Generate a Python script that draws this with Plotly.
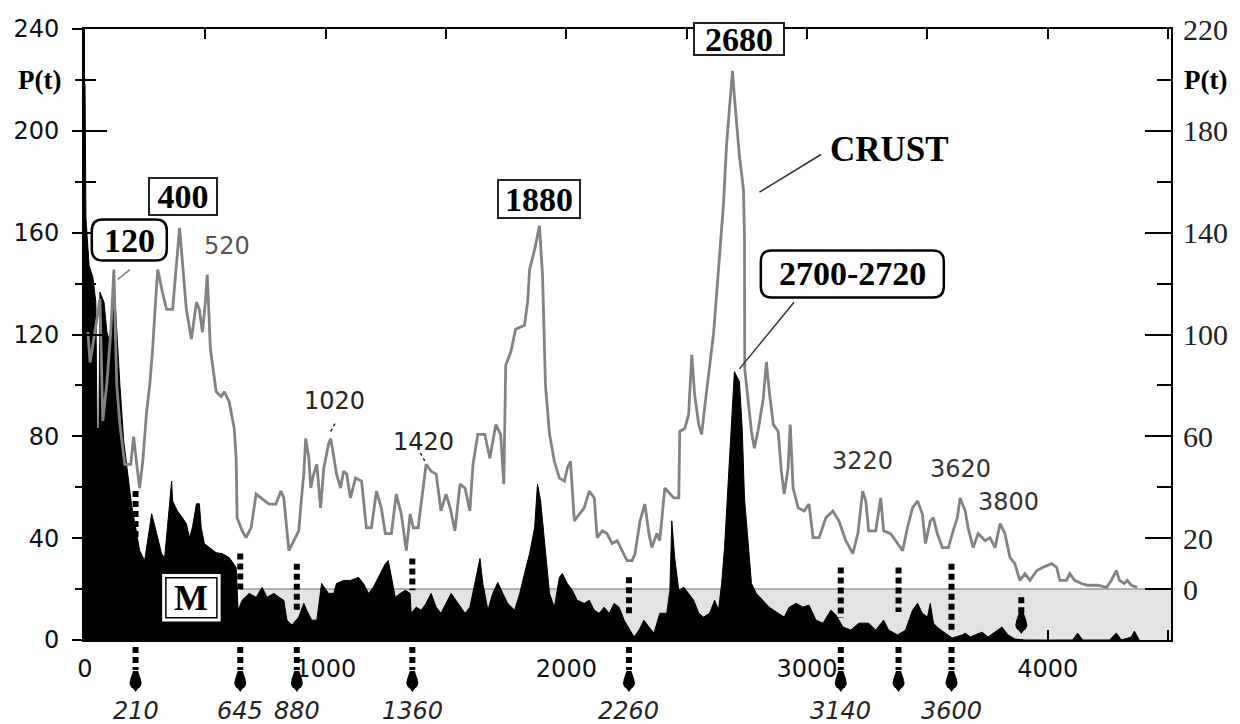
import plotly.graph_objects as go

# ---------------------------------------------------------------- data
# Crust age spectrum P(t), right-hand axis (Ma vs. probability)
crust_t = [12, 21, 41, 62, 74, 91, 107, 120, 132, 145, 157, 165, 190, 202, 215, 227, 240, 256, 269, 281,
           293, 302, 322, 339, 364, 380, 393, 405, 421, 442, 463, 475, 488, 500, 508, 521, 533, 545, 566, 579,
           599, 620, 628, 632, 653, 669, 690, 711, 731, 764, 793, 814, 826, 839, 847, 868, 888, 901, 909, 917,
           930, 938, 950, 963, 979, 992, 1012, 1021, 1033, 1045, 1062, 1074, 1087, 1103, 1124, 1149, 1169, 1190,
           1211, 1231, 1248, 1273, 1293, 1314, 1335, 1351, 1364, 1384, 1405, 1417, 1438, 1459, 1479, 1500, 1517,
           1537, 1558, 1579, 1599, 1612, 1632, 1661, 1682, 1707, 1727, 1740, 1748, 1769, 1789, 1826, 1839, 1847,
           1868, 1888, 1901, 1913, 1930, 1950, 1971, 1992, 2004, 2017, 2033, 2054, 2074, 2095, 2116, 2128, 2149,
           2169, 2190, 2211, 2231, 2252, 2273, 2285, 2306, 2326, 2343, 2355, 2376, 2388, 2409, 2430, 2446, 2467,
           2471, 2492, 2508, 2521, 2533, 2550, 2562, 2574, 2591, 2603, 2612, 2632, 2653, 2665, 2678, 2690, 2698,
           2707, 2719, 2736, 2740, 2741, 2756, 2769, 2781, 2798, 2818, 2831, 2843, 2860, 2880, 2893, 2905, 2921,
           2930, 2942, 2963, 2988, 3008, 3025, 3050, 3078, 3107, 3132, 3161, 3190, 3211, 3231, 3244, 3256, 3285,
           3306, 3318, 3347, 3368, 3397, 3417, 3438, 3459, 3479, 3492, 3512, 3525, 3541, 3562, 3587, 3607, 3624,
           3636, 3657, 3669, 3690, 3711, 3740, 3760, 3781, 3802, 3822, 3843, 3863, 3884, 3905, 3926, 3955, 3979,
           4016, 4037, 4050, 4078, 4091, 4112, 4140, 4165, 4207, 4244, 4264, 4285, 4298, 4318, 4330, 4347, 4372]
crust_p = [101, 89, 101, 114, 66, 81, 101, 125.5, 80, 64.6, 55.3, 49, 49, 59.9, 49, 39.7, 50.2, 69.7, 80.2, 94.3,
           112.7, 125.5, 116.5, 109.9, 109.9, 128.2, 141.9, 128.2, 109.9, 98.2, 112.7, 109.9, 100.9, 112.7, 123.5, 94.3, 86.5, 77.5, 75.6, 77.5,
           73.6, 63.1, 51.4, 28, 22.9, 20.2, 24.1, 37.3, 35.8, 33.4, 33.4, 38.5, 35.8, 21.8, 15.1, 19, 22.9, 37.3, 45.2, 59.2,
           51.4, 39.7, 45.2, 49, 31.9, 47.5, 56.9, 59.2, 51.4, 45.2, 39.7, 46.3, 45.2, 35.8, 43.6, 42.4, 24.1, 24.1,
           38.5, 31.9, 21.8, 21.8, 37.3, 29.5, 15.1, 29.5, 24.1, 24.1, 39.7, 49, 46.3, 45.2, 30.7, 37.3, 31.9,
           22.9, 41.2, 39.7, 30.7, 49, 60.8, 60.8, 51.4, 64.6, 60.8, 41.2, 88, 93.1, 102.1, 103.6, 112.7, 125.5,
           133.3, 142.7, 123.2, 80.2, 60.8, 50.2, 43.6, 42.4, 47.5, 50.2, 26.8, 29.5, 31.9, 38.5, 35.8, 20.2, 22.9,
           21.8, 17.9, 19, 15.1, 11.2, 11.2, 13.9, 26.8, 33.4, 21.8, 16.3, 21.8, 19, 39.7, 37.3, 35.8, 35.8,
           61.9, 63.1, 68.6, 92, 76.3, 64.6, 60.8, 70.9, 84.2, 95.9, 100.9, 125.5, 151.6, 173.9, 189.5, 203.6, 193.4,
           182.9, 170, 156.8, 137.3, 86.5, 72.5, 61.9, 55.3, 63.1, 74.8, 89.2, 77.5, 64.6, 61.9, 46.3, 37.3, 47.5,
           64.6, 39.7, 31.9, 30.7, 33.4, 20.2, 20.2, 28, 30.7, 26.8, 19, 13.9, 21.8, 38.5, 34.6, 22.9, 22.9,
           35.8, 22.9, 21.8, 19, 15.1, 24.1, 31.9, 34.6, 29.5, 17.9, 26.8, 28, 21.8, 16.3, 16.3, 22.9, 28,
           35.8, 30.7, 24.1, 16.3, 21.8, 19, 20.2, 16.3, 25.7, 21.8, 12.4, 10, 3.4, 6.1, 3.4, 7.3, 8.5,
           10, 8.5, 3.4, 3.4, 6.1, 3.4, 2.2, 1.5, 1.5, 0.7, 3.4, 7.3, 3.4, 2.2, 3.4, 1.5, 0.7]

# Mantle (M) age spectrum P(t), left-hand axis
mantle_t = [0, 4, 17, 33, 45, 50, 58, 62, 79, 91, 103, 116, 124, 136, 145, 161, 178, 194, 215, 227,
            248, 269, 277, 298, 318, 331, 343, 360, 364, 384, 405, 421, 434, 446, 463, 475, 483, 496, 517, 545,
            570, 599, 628, 636, 653, 682, 711, 736, 756, 785, 806, 826, 839, 860, 888, 909, 921, 942, 963, 983,
            1012, 1033, 1045, 1074, 1103, 1136, 1157, 1178, 1198, 1219, 1248, 1260, 1273, 1289, 1310, 1331, 1351,
            1355, 1376, 1397, 1417, 1438, 1459, 1479, 1500, 1521, 1550, 1579, 1599, 1620, 1641, 1653, 1674, 1694,
            1715, 1736, 1756, 1785, 1806, 1826, 1847, 1868, 1880, 1893, 1909, 1930, 1950, 1971, 1983, 2004, 2025,
            2045, 2074, 2095, 2116, 2136, 2157, 2178, 2198, 2219, 2240, 2260, 2281, 2302, 2322, 2343, 2364, 2388,
            2417, 2430, 2438, 2450, 2467, 2488, 2508, 2529, 2550, 2570, 2595, 2616, 2632, 2645, 2657, 2674, 2686,
            2698, 2719, 2731, 2740, 2756, 2769, 2789, 2818, 2843, 2880, 2905, 2926, 2955, 2983, 3008, 3037, 3066,
            3099, 3120, 3149, 3182, 3215, 3256, 3285, 3318, 3339, 3376, 3409, 3438, 3459, 3479, 3500, 3512, 3525,
            3545, 3574, 3603, 3645, 3657, 3678, 3727, 3752, 3810, 3835, 3863, 3905, 4103, 4124, 4145, 4256, 4285,
            4306, 4347, 4360, 4380]
mantle_p = [218.5, 165.8, 147.1, 142.4, 132.7, 83.1, 83.1, 136.6, 132.7, 121, 117, 136.6, 134.6, 113.2, 100.3, 78, 65.2, 52.7, 41.8, 35.1,
            31.2, 44.1, 49.6, 41.8, 33.9, 32.4, 44.1, 62.4, 54.6, 50.7, 48, 45.7, 40.2, 44.1, 53.5, 53.5, 44.1, 37.8, 36.3, 34.3,
            33.9, 32.4, 28.5, 11.7, 15.6, 18.3, 16.8, 20.7, 16.8, 18.3, 16.8, 15.6, 7.8, 5.9, 9, 14.4, 11.7, 7.8, 7.8, 22.2,
            18.3, 18.3, 22.2, 23.4, 23.4, 24.6, 22.2, 18.3, 20.7, 24.6, 30, 31.2, 24.6, 16.8, 18.3, 19.5, 18.3,
            10.5, 12.9, 11.7, 14.4, 18.3, 12.9, 10.5, 14.4, 18.3, 14.4, 10.5, 12.9, 22.2, 32, 22.2, 11.7, 18.3,
            22.6, 18.3, 14.4, 11.7, 18.3, 26.1, 33.9, 44.1, 61.3, 54.6, 39, 18.3, 12.9, 24.6, 26.1, 22.2, 19.5,
            15.6, 14.4, 15.6, 11.7, 10.5, 12.9, 10.5, 14.4, 12.9, 7.8, 4.7, 1.2, 3.9, 7.8, 5.1, 2.7, 10.5,
            10.5, 19.5, 46.8, 32.4, 19.5, 20.7, 18.3, 15.6, 10.5, 9, 10.5, 15.6, 11.7, 22.2, 36.3, 65.2, 88.6,
            105.4, 101.5, 81.9, 55.8, 36.3, 22.2, 18.3, 15.6, 12.9, 10.5, 9, 12.9, 14.4, 12.9, 13.7, 7.8, 6.6,
            11.7, 9.8, 5.1, 3.9, 6.6, 6.6, 3.9, 7.8, 3.9, 2, 3.9, 11.7, 14.4, 10.5, 9, 14.4, 6.6,
            4.7, 2.7, 0.8, 2, 2.7, 1.2, 3.1, 1.2, 5.1, 2, 0.4, 0, 0, 2.7, 0, 0, 2.7,
            0, 1.2, 3.5, 0]

# Minima of the crust spectrum marked below the time axis
marker_t = [210, 645, 880, 1360, 2260, 3140, 3380, 3600]
marker_text = ["210", "645", "880", "1360", "2260", "3140", "", "3600"]
# Dotted guides between the two spectra (left-axis P values)
guide_top = [58.5, 34, 30, 32, 24.6, 28.5, 28.5, 30]
guide_bottom = [39, 18.3, 11.7, 19.5, 9.8, 8.6, 11, 2.7]
# Extra guide ending in a drop marker inside the shaded band
end_t, end_top, end_bottom, end_drop = 3890, 16.8, 8.5, 5.9

# Shaded band of the mantle curve below the crust zero level
band_start, band_level, axis_end = 645, 20, 4512

# Peak labels
box_labels = [("400", 409, 174.2, 64, 33), ("1880", 1888, 173.3, 78, 34), ("2680", 2717, 236, 86, 28)]
round_labels = [("120", 184, 157.1, 37.5, 20.5), ("2700-2720", 3188, 143.8, 91.5, 23.5)]
plain_labels = [("520", 589, 154.9, "#555555"), ("1020", 1037, 94, "#222222"), ("1420", 1405, 77.7, "#222222"),
                ("3220", 3229, 70.2, "#333333"), ("3620", 3636, 67.1, "#333333"), ("3800", 3837, 54.2, "#333333")]

SANS = "DejaVu Sans"
SERIF = "Liberation Serif"

fig = go.Figure()
fig.add_trace(go.Scatter(x=mantle_t, y=mantle_p, mode="lines", fill="tozeroy", fillcolor="black",
                         line=dict(color="black", width=1), yaxis="y", hoverinfo="skip", showlegend=False))
fig.add_trace(go.Scatter(x=crust_t, y=crust_p, mode="lines", line=dict(color="#828282", width=2.8),
                         yaxis="y2", showlegend=False))
# carrier for the inner half of the left-axis ticks
fig.add_trace(go.Scatter(x=[None], y=[None], yaxis="y3", showlegend=False, hoverinfo="skip"))

shapes = []
annotations = []

# shaded band
shapes.append(dict(type="rect", xref="x", yref="y", x0=band_start, x1=axis_end, y0=0, y1=band_level,
                   fillcolor="#e3e3e3", line=dict(width=0), layer="below"))
shapes.append(dict(type="line", xref="x", yref="y", x0=band_start, x1=axis_end, y0=band_level, y1=band_level,
                   line=dict(color="#9a9a9a", width=1.5), layer="below"))

DOT = "6px,4px"


def drop(x, yref, yanchor, yc):
    """Pin-shaped marker head centred yc pixels from the anchor."""
    out = [dict(type="path", xref="x", yref=yref, xsizemode="pixel", ysizemode="pixel", xanchor=x, yanchor=yanchor,
                path=f"M -2.5,{yc + 12} L 2.5,{yc + 12} L 5.5,{yc + 3} L -5.5,{yc + 3} Z",
                fillcolor="black", line=dict(width=0), layer="above"),
           dict(type="circle", xref="x", yref=yref, xsizemode="pixel", ysizemode="pixel", xanchor=x, yanchor=yanchor,
                x0=-6, x1=6, y0=yc - 6, y1=yc + 6, fillcolor="black", line=dict(width=0), layer="above"),
           dict(type="path", xref="x", yref=yref, xsizemode="pixel", ysizemode="pixel", xanchor=x, yanchor=yanchor,
                path=f"M -3.5,{yc - 4} L 0,{yc - 9} L 3.5,{yc - 4} Z",
                fillcolor="black", line=dict(width=0), layer="above")]
    return out


for t, lab, top, bot in zip(marker_t, marker_text, guide_top, guide_bottom):
    shapes.append(dict(type="line", xref="x", yref="y", x0=t, x1=t, y0=top, y1=bot,
                       line=dict(color="black", width=6, dash=DOT), layer="above"))
    shapes.append(dict(type="line", xref="x", yref="paper", ysizemode="pixel", yanchor=0, x0=t, x1=t,
                       y0=-7, y1=-30, line=dict(color="black", width=6, dash=DOT), layer="above"))
    shapes.extend(drop(t, "paper", 0, -43))
    if lab:
        annotations.append(dict(x=t, y=-0.116, xref="x", yref="paper", text=lab, showarrow=False,
                                font=dict(family=SANS, size=24, color="#222222", style="italic"),
                                xanchor="center", yanchor="middle"))

shapes.append(dict(type="line", xref="x", yref="y", x0=end_t, x1=end_t, y0=end_top, y1=end_bottom,
                   line=dict(color="black", width=6, dash=DOT), layer="above"))
shapes.extend(drop(end_t, "y", end_drop, 0))

# leader lines
leaders = [((136, 141.6), (186, 145.5), "#777777", 1.5, "solid"),
           ((1021, 81.9), (1041, 85.5), "#222222", 1.5, "dot"),
           ((1393, 73.4), (1417, 69.5), "#222222", 1.5, "dot"),
           ((2719, 106.5), (2946, 132.7), "#333333", 1.5, "solid"),
           ((2802, 175.9), (3058, 190.7), "#333333", 1.5, "solid")]
for (xa, ya), (xb, yb), col, w, d in leaders:
    shapes.append(dict(type="line", xref="x", yref="y", x0=xa, y0=ya, x1=xb, y1=yb,
                       line=dict(color=col, width=w, dash=d), layer="above"))


def rounded(w, h, r):
    return (f"M {-w + r},{-h} L {w - r},{-h} Q {w},{-h} {w},{-h + r} L {w},{h - r} Q {w},{h} {w - r},{h} "
            f"L {-w + r},{h} Q {-w},{h} {-w},{h - r} L {-w},{-h + r} Q {-w},{-h} {-w + r},{-h} Z")


for txt, x, y, hw, hh in round_labels:
    shapes.append(dict(type="path", xref="x", yref="y", xsizemode="pixel", ysizemode="pixel", xanchor=x, yanchor=y,
                       path=rounded(hw, hh, 11), fillcolor="white", line=dict(color="black", width=2.5),
                       layer="above"))
    annotations.append(dict(x=x, y=y, xref="x", yref="y", text=f"<b>{txt}</b>", showarrow=False,
                            font=dict(family=SERIF, size=34, color="black")))

for txt, x, y, w, h in box_labels:
    annotations.append(dict(x=x, y=y, xref="x", yref="y", text=f"<b>{txt}</b>", showarrow=False,
                            width=w, height=h, bgcolor="white", bordercolor="#222222", borderwidth=2, borderpad=1,
                            font=dict(family=SERIF, size=34, color="black")))

for txt, x, y, col in plain_labels:
    annotations.append(dict(x=x, y=y, xref="x", yref="y", text=txt, showarrow=False,
                            font=dict(family=SANS, size=24, color=col)))

annotations.append(dict(x=3343, y=192.8, xref="x", yref="y", text="<b>CRUST</b>", showarrow=False,
                        font=dict(family=SERIF, size=35, color="black")))

# double-framed "M" tag
m_x, m_y = 442, 16.6
for hw, hh in [(30, 24.5), (25.5, 20)]:
    shapes.append(dict(type="rect", xref="x", yref="y", xsizemode="pixel", ysizemode="pixel", xanchor=m_x,
                       yanchor=m_y, x0=-hw, x1=hw, y0=-hh, y1=hh, fillcolor="white",
                       line=dict(color="black", width=1.5), layer="above"))
annotations.append(dict(x=m_x, y=m_y, xref="x", yref="y", text="<b>M</b>", showarrow=False,
                        font=dict(family=SERIF, size=36, color="black")))

# axis titles
annotations.append(dict(x=-0.042, y=220, xref="paper", yref="y", text="<b>P(t)</b>", showarrow=False,
                        xanchor="center", yanchor="middle",
                        font=dict(family=SERIF, size=27, color="black")))
annotations.append(dict(x=1.032, y=200, xref="paper", yref="y2", text="<b>P(t)</b>", showarrow=False,
                        xanchor="center", yanchor="middle",
                        font=dict(family=SERIF, size=27, color="black")))

left_major = [0, 40, 80, 120, 160, 200, 240]
left_minor = [20, 60, 100, 140, 180, 220]

fig.update_layout(
    width=1240, height=724, margin=dict(l=85, r=63, t=25, b=84),
    paper_bgcolor="white", plot_bgcolor="white", showlegend=False,
    shapes=shapes, annotations=annotations,
    xaxis=dict(range=[0, axis_end], tickvals=[0, 1000, 2000, 3000, 4000], ticks="inside", ticklen=10,
               tickwidth=1.5, tickcolor="black",
               minor=dict(dtick=500, tick0=0, ticks="inside", ticklen=10, tickwidth=1.5, tickcolor="black"),
               showline=True, linecolor="black", linewidth=1.5, mirror="ticks", showgrid=False, zeroline=False,
               tickfont=dict(family=SANS, size=24, color="#111111"), ticklabelstandoff=6),
    yaxis=dict(range=[0, 240], tickvals=left_major, ticks="outside", ticklen=10, tickwidth=1.5, tickcolor="black",
               minor=dict(tickvals=left_minor, ticks="outside", ticklen=7, tickwidth=1.5, tickcolor="black"),
               showline=True, linecolor="black", linewidth=3, showgrid=False, zeroline=False,
               tickfont=dict(family=SANS, size=24, color="#111111"), ticklabelstandoff=8),
    yaxis2=dict(overlaying="y", side="right", range=[-20, 220], tickvals=[0, 20, 60, 100, 140, 180, 220],
                ticks="inside", ticklen=26, tickwidth=1.5, tickcolor="black",
                minor=dict(tickvals=[40, 80, 120, 160, 200], ticks="inside", ticklen=14, tickwidth=1.5,
                           tickcolor="black"),
                showline=True, linecolor="black", linewidth=2, showgrid=False, zeroline=False,
                tickfont=dict(family=SERIF, size=30, color="#222222"), ticklabelstandoff=4),
    yaxis3=dict(overlaying="y", side="left", range=[0, 240], tickvals=left_major, ticks="inside", ticklen=22,
                tickwidth=1.5, tickcolor="black",
                minor=dict(tickvals=left_minor, ticks="inside", ticklen=11, tickwidth=1.5, tickcolor="black"),
                showticklabels=False, showline=False, showgrid=False, zeroline=False),
)

fig.write_html("out.html")
